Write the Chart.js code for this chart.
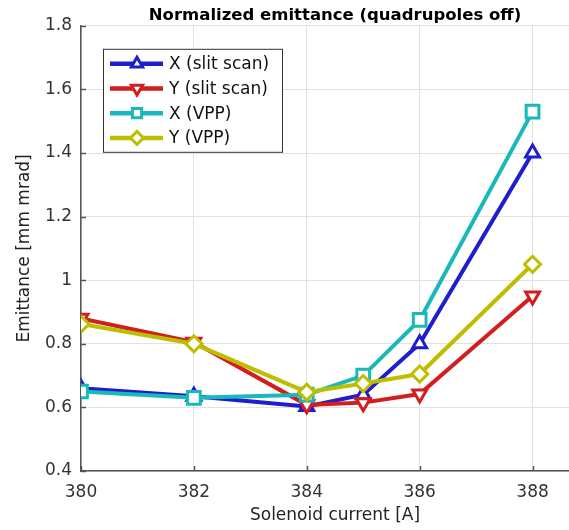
<!DOCTYPE html>
<html>
<head>
<meta charset="utf-8">
<script src="https://cdn.jsdelivr.net/npm/chart.js@4"></script>
<style>
html, body { margin: 0; padding: 0; background: #fff; overflow: hidden; }
canvas { display: block; }
</style>
</head>
<body>
<canvas id="chart" width="601" height="530"></canvas>
<script>
// solenoid current [A] where the emittance was measured
const currents = [380, 382, 384, 385, 386, 388];

// normalized emittance [mm mrad]
const xSlitScan = [0.66, 0.635, 0.603, 0.64, 0.80, 1.40];
const ySlitScan = [0.88, 0.805, 0.608, 0.615, 0.642, 0.95];
const xVPP = [0.65, 0.63, 0.64, 0.70, 0.875, 1.53];
const yVPP = [0.862, 0.80, 0.648, 0.675, 0.705, 1.05];

const seriesNames = ["X (slit scan)", "Y (slit scan)", "X (VPP)", "Y (VPP)"];
const xTicks = [380, 382, 384, 386, 388];
const yTicks = [0.4, 0.6, 0.8, 1, 1.2, 1.4, 1.6, 1.8];

const font = "'DejaVu Sans', sans-serif";
const axisColor = "#555";

function points(values) {
  return currents.map((c, i) => ({ x: c, y: values[i] }));
}

//legend drawn MATLAB style (line with marker in the middle)
const matlabLegend = {
  id: "matlabLegend",
  afterDatasetsDraw(chart) {
    const ctx = chart.ctx;
    const area = chart.chartArea;
    const left = area.left + 22;
    const top = area.top + 23;
    const w = 179;
    const h = 103;
    ctx.save();
    ctx.fillStyle = "#fff";
    ctx.fillRect(left, top, w, h);
    ctx.strokeStyle = "#333";
    ctx.lineWidth = 1;
    ctx.strokeRect(left + 0.5, top + 0.5, w, h);
    chart.data.datasets.forEach((ds, i) => {
      const y = top + 15 + i * 24.7;
      ctx.strokeStyle = ds.borderColor;
      ctx.lineWidth = 4.5;
      ctx.beginPath();
      ctx.moveTo(left + 7, y);
      ctx.lineTo(left + 60, y);
      ctx.stroke();
      ctx.fillStyle = "#fff";
      ctx.lineWidth = 3;
      Chart.helpers.drawPoint(ctx, {
        pointStyle: ds.pointStyle,
        rotation: ds.pointRotation || 0,
        radius: 6.5,
        borderWidth: 3
      }, left + 34, y);
      ctx.fillStyle = "#111";
      ctx.font = "17px " + font;
      ctx.textBaseline = "middle";
      ctx.textAlign = "left";
      ctx.fillText(ds.label, left + 66, y + 1);
    });
    ctx.restore();
  }
};

//ticks pointing into the plot
const innerTicks = {
  id: "innerTicks",
  afterDraw(chart) {
    const ctx = chart.ctx;
    const area = chart.chartArea;
    const xs = chart.scales.x;
    const ys = chart.scales.y;
    ctx.save();
    ctx.strokeStyle = axisColor;
    ctx.lineWidth = 1.5;
    ctx.beginPath();
    xTicks.forEach(v => {
      const px = Math.round(xs.getPixelForValue(v)) + 0.5;
      ctx.moveTo(px, area.bottom);
      ctx.lineTo(px, area.bottom - 5);
    });
    yTicks.forEach(v => {
      const py = Math.round(ys.getPixelForValue(v)) + 0.5;
      ctx.moveTo(area.left, py);
      ctx.lineTo(area.left + 5, py);
    });
    ctx.stroke();
    ctx.restore();
  }
};

const ctx = document.getElementById("chart").getContext("2d");
const chart = new Chart(ctx, {
  type: "line",
  data: {
    datasets: [
      {
        label: seriesNames[0],
        data: points(xSlitScan),
        borderColor: "rgb(30, 30, 205)",
        pointStyle: "triangle",
        pointRadius: 8,
        order: 4
      },
      {
        label: seriesNames[1],
        data: points(ySlitScan),
        borderColor: "rgb(210, 30, 30)",
        pointStyle: "triangle",
        pointRotation: 180,
        pointRadius: 8,
        order: 3
      },
      {
        label: seriesNames[2],
        data: points(xVPP),
        borderColor: "rgb(25, 185, 185)",
        pointStyle: "rect",
        pointRadius: 9,
        order: 2
      },
      {
        label: seriesNames[3],
        data: points(yVPP),
        borderColor: "rgb(190, 190, 0)",
        pointStyle: "rectRot",
        pointRadius: 8,
        order: 1
      }
    ]
  },
  options: {
    responsive: false,
    animation: false,
    datasets: {
      line: {
        borderWidth: 4,
        pointBackgroundColor: "#fff",
        pointBorderWidth: 3,
        tension: 0
      }
    },
    layout: { padding: 0 },
    scales: {
      x: {
        type: "linear",
        min: 380,
        max: 389,
        afterBuildTicks: scale => { scale.ticks = xTicks.map(v => ({ value: v })); },
        afterFit: scale => { scale.height = 59; },
        grid: { color: "#e2e2e2", drawTicks: false },
        border: { color: axisColor, width: 1.5 },
        ticks: {
          padding: 11,
          color: "#333",
          font: { family: font, size: 17 },
          maxRotation: 0,
          callback: v => String(v)
        },
        title: {
          display: true,
          text: "Solenoid current [A]",
          color: "#222",
          font: { family: font, size: 17 },
          padding: { top: 0, bottom: 4 }
        }
      },
      y: {
        min: 0.4,
        max: 1.8,
        afterBuildTicks: scale => { scale.ticks = yTicks.map(v => ({ value: v })); },
        afterFit: scale => { scale.width = 81; },
        grid: { color: "#e2e2e2", drawTicks: false },
        border: { color: axisColor, width: 1.5 },
        ticks: {
          padding: 9,
          color: "#333",
          font: { family: font, size: 17 },
          callback: v => String(+v.toFixed(1))
        },
        title: {
          display: true,
          text: "Emittance [mm mrad]",
          color: "#222",
          font: { family: font, size: 17 },
          padding: { top: 14, bottom: 0 }
        }
      }
    },
    plugins: {
      legend: { display: false },
      tooltip: { enabled: false },
      title: {
        display: true,
        text: "Normalized emittance (quadrupoles off)",
        fullSize: false,
        color: "#000",
        font: { family: font, size: 16.5, weight: "bold" },
        padding: { top: 6, bottom: 0 }
      }
    }
  },
  plugins: [matlabLegend, innerTicks]
});
</script>
</body>
</html>
